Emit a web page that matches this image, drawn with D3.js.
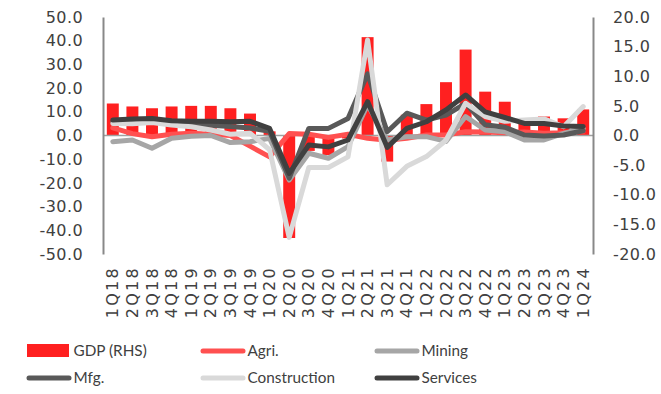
<!DOCTYPE html>
<html>
<head>
<meta charset="utf-8">
<script src="https://cdn.jsdelivr.net/npm/d3@7"></script>
<style>
  body { margin: 0; background: #fff; }
  svg { display: block; }
</style>
</head>
<body>
<svg id="chart" width="661" height="394"></svg>
<script>
// Quarterly real growth, % YoY
const quarters = ["1Q18","2Q18","3Q18","4Q18","1Q19","2Q19","3Q19","4Q19",
  "1Q20","2Q20","3Q20","4Q20","1Q21","2Q21","3Q21","4Q21",
  "1Q22","2Q22","3Q22","4Q22","1Q23","2Q23","3Q23","4Q23","1Q24"];

// GDP on the right-hand axis
const gdp = [5.4, 4.9, 4.6, 4.9, 5.0, 5.0, 4.6, 3.7,
  0.7, -17.3, -2.6, -3.3, -0.5, 16.6, -4.4, 3.5,
  5.3, 9.0, 14.5, 7.4, 5.7, 2.7, 3.2, 2.9, 4.4];

// Sectors on the left-hand axis
const agri = [3.2, 0.8, -0.5, 0.5, 1.0, 0.5, 0.0, -4.5,
  -9.0, 0.8, 0.5, -0.8, 0.5, -1.2, -2.0, -1.2,
  0.2, 0.2, 1.6, 1.5, 1.2, 1.5, 1.0, 1.2, 1.8];
const mining = [-2.6, -1.9, -5.4, -1.2, -0.3, 0.0, -3.0, -2.6,
  -1.2, -18.8, -7.5, -9.6, -4.7, 13.0, -1.9, -0.5,
  -0.5, -2.5, 8.0, 2.3, 1.6, -1.9, -1.9, 0.9, 3.0];
const mfg = [5.8, 6.3, 6.5, 5.2, 4.5, 4.3, 3.8, 3.2,
  1.8, -18.0, 3.0, 3.0, 7.2, 26.0, 1.6, 9.4,
  6.5, 8.6, 13.6, 4.5, 3.5, 0.2, -0.2, 0.2, 2.0];
const construction = [5.1, 5.0, 5.5, 4.4, 3.7, 2.3, 0.5, 1.0,
  -6.0, -43.0, -13.5, -13.5, -9.0, 40.3, -20.8, -13.0,
  -8.9, -2.0, 13.6, 8.0, 6.0, 6.5, 7.0, 3.7, 12.2];
const services = [6.5, 7.0, 7.2, 6.2, 6.0, 6.0, 5.8, 6.0,
  3.0, -16.0, -4.0, -4.8, -1.9, 14.3, -5.0, 3.0,
  5.8, 10.8, 17.1, 10.0, 7.6, 5.1, 5.1, 4.0, 3.8];

const leftTicks = [50, 40, 30, 20, 10, 0, -10, -20, -30, -40, -50];
const rightTicks = [20, 15, 10, 5, 0, -5, -10, -15, -20];

const lineSeries = [
  { name: "Agri.", values: agri, color: "#ff5050" },
  { name: "Mining", values: mining, color: "#a6a6a6" },
  { name: "Mfg.", values: mfg, color: "#595959" },
  { name: "Construction", values: construction, color: "#d9d9d9" },
  { name: "Services", values: services, color: "#404040" }
];
const barColor = "#ff2020";

const svg = d3.select("#chart");
const plot = { left: 103, right: 593, top: 17, bottom: 254 };
const textColor = "#404040";
const numFont = "'DejaVu Sans', sans-serif";
const txtFont = "Lato, 'Open Sans', sans-serif";

const x = d3.scaleBand().domain(quarters)
  .range([plot.left, plot.right]).paddingInner(0.39).paddingOuter(0.195);
const yL = d3.scaleLinear().domain([-50, 50]).range([plot.bottom, plot.top]);
const yR = d3.scaleLinear().domain([-20, 20]).range([plot.bottom, plot.top]);

// GDP bars
svg.append("g").selectAll("rect").data(gdp).join("rect")
  .attr("x", (d, i) => x(quarters[i]))
  .attr("width", x.bandwidth())
  .attr("y", d => yR(Math.max(0, d)))
  .attr("height", d => Math.abs(yR(d) - yR(0)))
  .attr("fill", barColor);

// Category axis line through zero
svg.append("line")
  .attr("x1", plot.left).attr("x2", plot.right)
  .attr("y1", yL(0)).attr("y2", yL(0))
  .attr("stroke", "#a0a0a0").attr("stroke-width", 1.5);

// Sector lines
const line = d3.line()
  .x((d, i) => x(quarters[i]) + x.bandwidth() / 2)
  .y(d => yL(d));
svg.append("g").selectAll("path").data(lineSeries).join("path")
  .attr("d", s => line(s.values))
  .attr("fill", "none")
  .attr("stroke", s => s.color)
  .attr("stroke-width", 5)
  .attr("stroke-linejoin", "round")
  .attr("stroke-linecap", "round");

// Left axis
const gL = svg.append("g").attr("transform", `translate(${plot.left},0)`)
  .call(d3.axisLeft(yL).tickValues(leftTicks).tickSize(0).tickPadding(20)
    .tickFormat(d => d.toFixed(1)));
// Right axis
const gR = svg.append("g").attr("transform", `translate(${plot.right},0)`)
  .call(d3.axisRight(yR).tickValues(rightTicks).tickSize(0).tickPadding(20)
    .tickFormat(d => d.toFixed(1)));
[gL, gR].forEach(g => {
  g.select(".domain").attr("stroke", "#888").attr("stroke-width", 2);
  g.selectAll("text").attr("fill", textColor)
    .style("font-family", numFont).style("font-size", "16px")
    .style("letter-spacing", "0.4px");
});

// Quarter labels, rotated
const gX = svg.append("g").attr("transform", `translate(0,${plot.bottom})`)
  .call(d3.axisBottom(x).tickSize(0));
gX.select(".domain").remove();
gX.selectAll("text")
  .attr("transform", "rotate(-90)")
  .attr("x", -12).attr("y", 0).attr("dy", "0.35em")
  .attr("text-anchor", "end")
  .attr("fill", textColor)
  .style("font-family", numFont).style("font-size", "16px")
  .style("letter-spacing", "2.3px");

// Legend
const legendItems = [
  { name: "GDP (RHS)", color: barColor, bar: true },
  ...lineSeries.map(s => ({ name: s.name, color: s.color, bar: false }))
];
const legCols = [27, 201, 375];
const legRows = [351, 378];
const leg = svg.append("g").selectAll("g").data(legendItems).join("g")
  .attr("transform", (d, i) => `translate(${legCols[i % 3]},${legRows[Math.floor(i / 3)]})`);
leg.filter(d => d.bar).append("rect")
  .attr("x", 0).attr("y", -7).attr("width", 42).attr("height", 13)
  .attr("fill", d => d.color);
leg.filter(d => !d.bar).append("line")
  .attr("x1", 2).attr("x2", 42).attr("y1", 0).attr("y2", 0)
  .attr("stroke", d => d.color).attr("stroke-width", 5)
  .attr("stroke-linecap", "round");
leg.append("text")
  .attr("x", 46.5).attr("y", 0).attr("dy", "0.35em")
  .attr("fill", textColor)
  .style("font-family", txtFont).style("font-size", "15.3px")
  .text(d => d.name);
</script>
</body>
</html>
